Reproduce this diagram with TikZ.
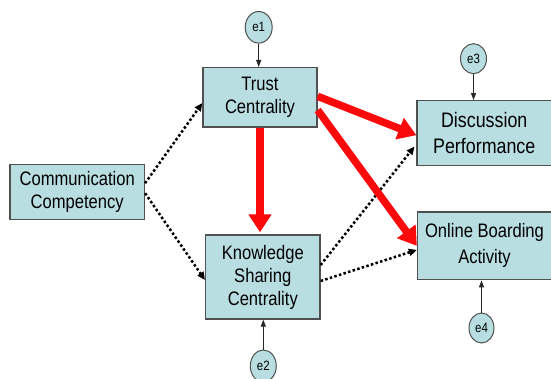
\documentclass[tikz,border=0pt]{standalone}
\usepackage{fontspec}
\setmainfont[FakeStretch=0.85]{Liberation Sans}
\usetikzlibrary{arrows.meta,shapes.geometric}
\definecolor{boxfill}{RGB}{185,222,226}
\definecolor{boxline}{RGB}{80,80,80}
\definecolor{redarrow}{RGB}{250,10,10}
\tikzset{
  box/.style={draw=boxline, line width=1.3pt, fill=boxfill, align=center, inner sep=0pt,
    font=\fontsize{19.5}{23}\selectfont},
  err/.style={ellipse, draw=boxline, line width=1pt, fill=boxfill, inner sep=0pt,
    font=\fontsize{13.5}{15}\selectfont},
  redpath/.style={draw=redarrow, line width=7.5pt, -{Triangle[length=18pt,width=22pt]}},
  dotpath/.style={draw=black, line width=2.5pt, dash pattern=on 2.5pt off 2.3pt,
    -{Triangle[length=8pt,width=7pt]}},
  thinpath/.style={draw=black!85, line width=1pt, -{Triangle[length=7pt,width=5pt]}}
}
\begin{document}
\begin{tikzpicture}[x=1pt,y=-1pt]
\useasboundingbox[fill=white] (0,0) rectangle (551,379);
\node[box, minimum width=114pt, minimum height=59.3pt] (trust) at (260,97.3) {Trust\\Centrality};
\node[box, minimum width=134.5pt, minimum height=65pt, font=\fontsize{21}{26}\selectfont] (disc) at (484.25,133.2) {Discussion\\Performance};
\node[box, minimum width=134.5pt, minimum height=55pt] (comm) at (77.2,192.2) {Communication\\Competency};
\node[box, minimum width=114.4pt, minimum height=84pt] (know) at (262.8,277) {Knowledge\\Sharing\\Centrality};
\node[box, minimum width=134pt, minimum height=67.7pt, font=\fontsize{19.5}{26}\selectfont] (online) at (484.5,245.9) {Online Boarding\\Activity};
\node[err, minimum width=27pt, minimum height=31.6pt] (e1) at (258.7,27.3) {e1};
\node[err, minimum width=26pt, minimum height=30pt] (e3) at (473.5,58.7) {e3};
\node[err, minimum width=26pt, minimum height=32pt] (e2) at (263.3,366) {e2};
\node[err, minimum width=25pt, minimum height=30pt] (e4) at (481.5,328) {e4};
% error arrows
\draw[thinpath] (e1.south) -- (e1.south |- trust.north);
\draw[thinpath] (e3.south) -- (e3.south |- disc.north);
\draw[thinpath] (e2.north) -- (e2.north |- know.south);
\draw[thinpath] (e4.north) -- (e4.north |- online.south);
% dotted paths
\draw[dotpath] ([yshift=9pt]comm.east) -- ([yshift=-5.7pt]trust.west);
\draw[dotpath] ([yshift=-1pt]comm.east) -- ([yshift=-3pt]know.west);
\draw[dotpath, shorten >=3pt] ([yshift=12pt]know.east) -- ([yshift=-11pt]disc.west);
\draw[dotpath] ([yshift=-4pt]know.east) -- ([yshift=-4pt]online.west);
% red paths
\draw[redpath, shorten >=2pt] (trust.south) -- (trust.south |- know.north);
\draw[redpath] ([yshift=1pt]trust.east) -- ([yshift=-2pt]disc.west);
\draw[redpath] ([yshift=-12.7pt]trust.east) -- (online.west);
\end{tikzpicture}
\end{document}
